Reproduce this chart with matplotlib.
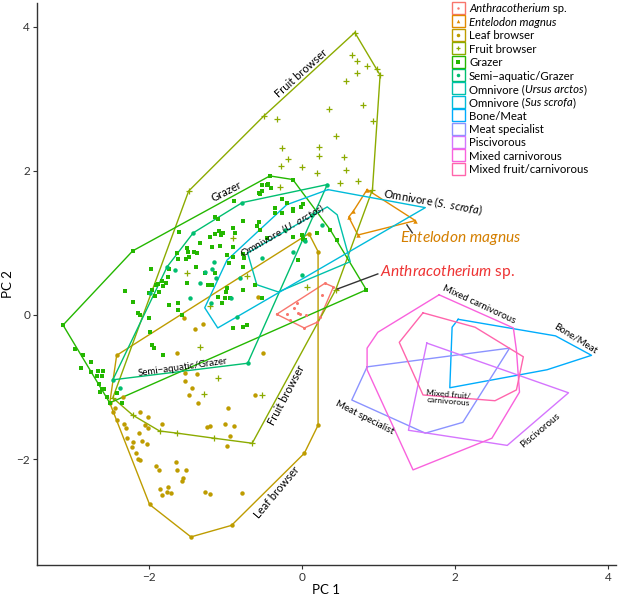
import numpy as np
import matplotlib.pyplot as plt
from matplotlib.patches import Rectangle

plt.rcParams['font.family'] = ['Lato', 'DejaVu Sans']
plt.rcParams['mathtext.fontset'] = 'custom'
plt.rcParams['mathtext.rm'] = 'Lato'
plt.rcParams['mathtext.it'] = 'Lato:italic'

groups = ['Anthracotherium sp.', 'Entelodon magnus', 'Leaf browser', 'Fruit browser',
          'Grazer', 'Semi-aquatic/Grazer', 'Omnivore (Ursus arctos)', 'Omnivore (Sus scrofa)',
          'Bone/Meat', 'Meat specialist', 'Piscivorous', 'Mixed carnivorous',
          'Mixed fruit/carnivorous']
# legend text split into (piece, style) so italics can be mixed in
legend_parts = [[('Anthracotherium', 'italic'), (' sp.', 'normal')],
                [('Entelodon magnus', 'italic')],
                [('Leaf browser', 'normal')], [('Fruit browser', 'normal')],
                [('Grazer', 'normal')], [('Semi\u2212aquatic/Grazer', 'normal')],
                [('Omnivore (', 'normal'), ('Ursus arctos', 'italic'), (')', 'normal')],
                [('Omnivore (', 'normal'), ('Sus scrofa', 'italic'), (')', 'normal')],
                [('Bone/Meat', 'normal')], [('Meat specialist', 'normal')],
                [('Piscivorous', 'normal')], [('Mixed carnivorous', 'normal')],
                [('Mixed fruit/carnivorous', 'normal')]]
colors = ['#F8766D', '#E18A00', '#BE9C00', '#8CAB00', '#24B700', '#00BE70', '#00C1AB',
          '#00BBDA', '#00ACFC', '#8B93FF', '#D575FE', '#F962DD', '#FF65AC']
markers = ['o', '^', 'o', '+', 's', 'o', None, None, None, None, None, None, None]
msizes = [2.2, 3.2, 3.2, 4.2, 3.2, 3.2, 0, 0, 0, 0, 0, 0, 0]

# convex hull outlines (PC1, PC2)
hull_anthra = [(-0.33, 0.01), (0.30, 0.44), (0.41, 0.39), (0.24, -0.03), (0.20, -0.10), (0.03, -0.18)]
hull_entel = [(0.85, 1.74), (1.48, 1.31), (0.73, 1.11), (0.61, 1.36), (0.67, 1.44)]
hull_leaf = [(0.09, 1.13), (0.21, 0.88), (0.21, -1.53), (0.03, -1.92), (-0.92, -2.92),
             (-1.45, -3.08), (-1.99, -2.63), (-2.51, -1.22), (-2.42, -0.56)]
hull_fruit = [(0.69, 3.92), (1.02, 3.33), (0.92, 1.74), (0.44, 0.35), (-0.65, -1.78),
              (-1.15, -1.71), (-1.63, -1.64), (-1.86, -1.61), (-2.21, -1.39), (-2.47, -1.15),
              (-1.48, 1.72), (-0.50, 2.76)]
hull_grazer = [(-0.42, 1.93), (-0.12, 1.88), (0.37, 1.18), (0.84, 0.35), (-2.51, -1.22),
               (-3.12, -0.14), (-2.21, 0.89)]
hull_semi = [(0.33, 1.81), (-0.71, -0.67), (-2.47, -0.90), (-1.76, 0.67), (-1.42, 1.14),
             (-0.78, 1.56)]
hull_ursus = [(-0.71, 0.86), (-0.59, 0.42), (-0.31, 0.32), (0.63, 0.74), (0.46, 1.39),
              (0.33, 1.50)]
hull_sus = [(0.34, 1.74), (1.61, 1.49), (-1.10, -0.18), (-1.27, 0.10), (-0.98, 0.76),
            (-0.20, 1.53)]
hull_bone = [(2.04, -0.06), (3.31, -0.29), (3.78, -0.56), (3.20, -0.76), (1.93, -1.01),
             (1.96, -0.17)]
hull_meat = [(0.85, -0.72), (2.71, -0.46), (2.10, -1.49), (1.61, -1.64), (0.65, -1.18)]
hull_pisc = [(1.63, -0.39), (3.48, -1.08), (2.68, -1.81), (1.39, -1.60)]
hull_mixcarn = [(1.79, 0.28), (2.76, -0.18), (2.80, -0.49), (2.84, -1.07), (2.48, -1.71),
                (1.45, -2.15), (0.85, -0.76), (0.85, -0.46), (0.99, -0.24)]
hull_mixfruit = [(1.58, 0.03), (2.26, -0.17), (2.89, -0.58), (2.80, -1.04), (2.52, -1.19),
                 (1.58, -1.11), (1.27, -0.38)]
hulls = [hull_anthra, hull_entel, hull_leaf, hull_fruit, hull_grazer, hull_semi, hull_ursus,
         hull_sus, hull_bone, hull_meat, hull_pisc, hull_mixcarn, hull_mixfruit]

# specimen scores
pts_anthra = [(-0.07, 0.17), (-0.10, 0.10), (-0.05, 0.03), (-0.03, 0.01), (0.05, 0.00),
              (-0.20, 0.01), (0.26, 0.28), (-0.16, -0.07), (0.46, 0.36)]
pts_entel = []
pts_leaf = [(-0.58, 0.25), (-1.54, -0.04), (-1.29, -0.13), (-1.40, -0.19), (-1.63, -0.53),
            (-1.53, -0.81), (-1.37, -0.82), (-1.53, -0.92), (-1.44, -1.01), (-1.48, -1.11),
            (-2.34, -1.14), (-1.36, -1.22), (-0.51, -0.53), (-0.61, -1.11), (-0.97, -1.29),
            (-2.44, -1.29), (-2.47, -1.35), (-2.12, -1.35), (-2.01, -1.42), (-2.41, -1.46),
            (-2.33, -1.51), (-2.05, -1.53), (-2.01, -1.57), (-2.30, -1.57), (-1.83, -1.51),
            (-1.24, -1.56), (-1.20, -1.54), (-1.01, -1.51), (-0.89, -1.54), (-2.13, -1.64),
            (-2.29, -1.71), (-2.21, -1.76), (-2.09, -1.75), (-2.03, -1.79), (-2.22, -1.83),
            (-0.94, -1.68), (-0.98, -1.82), (-2.17, -1.92), (-2.14, -2.00), (-2.12, -2.01),
            (-1.65, -2.04), (-1.90, -2.10), (-1.87, -2.15), (-1.63, -2.15), (-1.52, -2.15),
            (-1.56, -2.26), (-1.57, -2.31), (-1.86, -2.42), (-1.75, -2.39), (-1.76, -2.46),
            (-1.71, -2.47), (-1.83, -2.50), (-1.27, -2.46), (-1.20, -2.49), (-0.78, -2.47)]
pts_fruit = [(0.65, 3.61), (0.72, 3.53), (0.85, 3.46), (0.98, 3.42), (0.72, 3.36),
             (0.58, 3.25), (0.80, 2.92), (0.35, 2.86), (-0.33, 2.72), (0.93, 2.69),
             (0.44, 2.49), (-0.26, 2.32), (0.22, 2.33), (-0.18, 2.17), (0.22, 2.21),
             (0.55, 2.19), (-0.27, 2.07), (0.00, 2.06), (0.58, 2.01), (0.20, 1.97),
             (-0.29, 1.78), (0.50, 1.83), (0.73, 1.86), (-1.50, 0.58), (-0.90, 1.07),
             (-0.72, 0.54), (0.07, 0.39), (-1.20, 0.13), (-1.33, -0.44), (-1.10, -0.88),
             (-1.28, -1.10), (-0.52, -1.11)]
pts_grazer = [(-0.52, 1.81), (-0.44, 1.82), (-0.41, 1.76), (-0.52, 1.72), (-0.55, 1.68),
              (-0.89, 1.58), (-0.26, 1.61), (-0.20, 1.56), (-0.12, 1.47), (-0.01, 1.50),
              (-0.35, 1.49), (-0.35, 1.42), (-0.26, 1.42), (-1.14, 1.36), (-1.10, 1.33),
              (-0.77, 1.31), (-0.56, 1.29), (-1.61, 1.15), (-0.90, 1.21), (-0.59, 1.24),
              (-0.88, 1.14), (-1.03, 1.14), (-1.14, 1.13), (-1.08, 1.17), (-1.20, 1.08),
              (-1.33, 1.00), (-1.07, 0.96), (-1.18, 0.94), (-0.90, 0.94), (-1.50, 0.93),
              (-1.63, 0.86), (-1.49, 0.88), (-1.41, 0.88), (-1.37, 0.86), (-1.62, 0.78),
              (-1.52, 0.78), (-0.77, 0.85), (-0.76, 0.79), (-0.98, 0.83), (-0.90, 0.81),
              (-0.46, 1.07), (-0.12, 1.08), (0.01, 1.06), (0.00, 1.11), (0.20, 1.14),
              (0.04, 1.04), (-0.05, 0.76), (-1.39, 0.67), (-1.73, 0.64), (-1.97, 0.64),
              (-1.27, 0.58), (-1.14, 0.58), (-0.95, 0.72), (-0.77, 0.67), (-1.83, 0.47),
              (-1.75, 0.53), (-1.78, 0.44), (-1.88, 0.43), (-1.82, 0.40), (-1.23, 0.42),
              (-1.18, 0.42), (-1.50, 0.44), (-2.31, 0.33), (-1.96, 0.35), (-1.92, 0.26),
              (-2.00, 0.31), (-1.87, 0.32), (-0.98, 0.38), (-0.99, 0.32), (-1.10, 0.25),
              (-1.01, 0.24), (-0.77, 0.35), (-0.94, 0.24), (-1.05, 0.17), (-2.21, 0.18),
              (-2.14, 0.03), (-2.12, 0.00), (-2.00, -0.04), (-1.99, -0.24), (-1.96, -0.42),
              (-1.93, -0.46), (-1.73, 0.14), (-1.62, 0.17), (-1.62, 0.07), (-1.57, 0.00),
              (-1.82, -0.56), (-2.86, -0.56), (-2.97, -0.47), (-2.75, -0.65), (-2.75, -0.79),
              (-2.67, -0.78), (-2.60, -0.78), (-2.68, -0.85), (-2.61, -0.85), (-2.65, -0.96),
              (-2.61, -1.03), (-2.58, -1.03), (-2.64, -1.07), (-2.54, -1.14), (-2.35, -1.22),
              (-2.88, -0.74), (-2.41, -1.08), (-0.90, -0.18), (-0.77, -0.17), (-0.72, -0.14),
              (-0.61, 0.42), (-0.52, 0.24), (-0.55, 1.18), (-0.56, 1.69), (0.01, 1.54),
              (-0.12, 1.44), (-1.06, 1.11), (-1.48, 0.81), (-1.91, 0.42), (0.46, 1.04),
              (-0.46, 1.81)]
pts_semi = [(-1.27, 0.60), (-1.18, 0.64), (-1.12, 0.51), (-1.15, 0.74), (-0.81, 0.51),
            (-0.12, 0.88), (-1.46, 0.24), (-1.19, 0.17), (-0.93, 0.24), (-0.52, 0.79),
            (-1.33, 0.44), (-1.99, 0.31), (-1.66, 0.63), (-0.22, 1.18), (0.13, 1.39),
            (-2.38, -1.01), (0.04, 1.03), (-0.85, -0.03), (0.26, 1.25), (0.00, 0.56)]
points = [pts_anthra, pts_entel, pts_leaf, pts_fruit, pts_grazer, pts_semi]

# text labels placed on the hulls: (text, x, y, angle, size)
hull_labels = [
    ('Fruit browser', -0.01, 3.36, 42, 8),
    ('Grazer', -0.98, 1.72, 27, 8),
    (r'Omnivore ($\mathit{U.\ arctos}$)', -0.25, 1.18, 30, 7.5),
    (r'Omnivore ($\mathit{S.\ scrofa}$)', 1.71, 1.57, -10, 8),
    ('Semi\u2212aquatic/Grazer', -1.56, -0.72, 8, 7),
    ('Fruit browser', -0.20, -1.11, 62, 8),
    ('Leaf browser', -0.33, -2.46, 50, 8),
    ('Mixed carnivorous', 2.31, 0.14, -25, 7),
    ('Bone/Meat', 3.57, -0.32, -32, 7),
    ('Meat specialist', 0.82, -1.43, -27, 7),
    ('Piscivorous', 3.11, -1.60, 40, 7),
    ('Mixed fruit/\ncarnivorous', 1.91, -1.15, -5, 6),
]

fig = plt.figure(figsize=(6.2, 5.99), dpi=100)
ax = fig.add_axes([37 / 620, 34 / 599, 579 / 620, 562 / 599])

for h, c in zip(hulls, colors):
    h = np.array(h + h[:1])
    ax.plot(h[:, 0], h[:, 1], color=c, lw=1.0, zorder=2)

for i, pts in enumerate(points):
    p = np.array(pts + hulls[i])
    ax.plot(p[:, 0], p[:, 1], ls='none', marker=markers[i], ms=msizes[i],
            mew=0.9 if markers[i] == '+' else 0, color=colors[i], zorder=3)

for t, x, y, a, s in hull_labels:
    ax.text(x, y, t, rotation=a, rotation_mode='anchor', ha='center', va='center',
            fontsize=s, color='black', linespacing=1.0, zorder=5)

# fossil call-outs
ax.plot([0.46, 0.99], [0.36, 0.57], color='#333333', lw=1.0, zorder=4)
ax.text(1.02, 0.60, r'$\mathit{Anthracotherium}$ sp.', color='#EE3333', fontsize=11.2,
        ha='left', va='center')
ax.plot([1.37, 1.44], [1.25, 1.14], color='#333333', lw=1.0, zorder=4)
ax.text(1.28, 1.07, r'$\mathit{Entelodon\ magnus}$', color='#D47F00', fontsize=11.2,
        ha='left', va='center')

ax.set_xlim(-3.46, 4.10)
ax.set_ylim(-3.47, 4.33)
ax.set_xticks([-2, 0, 2, 4])
ax.set_yticks([-2, 0, 2, 4])
ax.set_xticklabels(['\u22122', '0', '2', '4'])
ax.set_yticklabels(['\u22122', '0', '2', '4'])
for s in ['top', 'right']:
    ax.spines[s].set_visible(False)
for s in ['left', 'bottom']:
    ax.spines[s].set_color('#333333')
    ax.spines[s].set_linewidth(1.0)
ax.tick_params(length=3, width=0.8, color='#333333', labelsize=8.5, labelcolor='#333333',
               pad=2)
ax.set_xlabel('PC 1', fontsize=9.5, labelpad=1)
ax.set_ylabel('PC 2', fontsize=9.5, labelpad=2)

# legend drawn in pixel space on an overlay
lg = fig.add_axes([0, 0, 1, 1])
lg.set_xlim(0, 620)
lg.set_ylim(599, 0)
lg.axis('off')
renderer = fig.canvas.get_renderer()
for i, (parts, c, m, ms) in enumerate(zip(legend_parts, colors, markers, msizes)):
    yc = 8 + 13.4 * i
    lg.add_patch(Rectangle((452, yc - 6), 12.5, 12, facecolor='white', edgecolor=c, lw=1.0))
    if m is not None:
        lg.plot([458.2], [yc], ls='none', marker=m, ms=ms * 0.8,
                mew=0.9 if m == '+' else 0, color=c)
    x = 469
    for s, style in parts:
        t = lg.text(x, yc, s, fontsize=8.2, style=style, ha='left', va='center_baseline')
        x += t.get_window_extent(renderer).width

fig.savefig('out.png', dpi=100)
